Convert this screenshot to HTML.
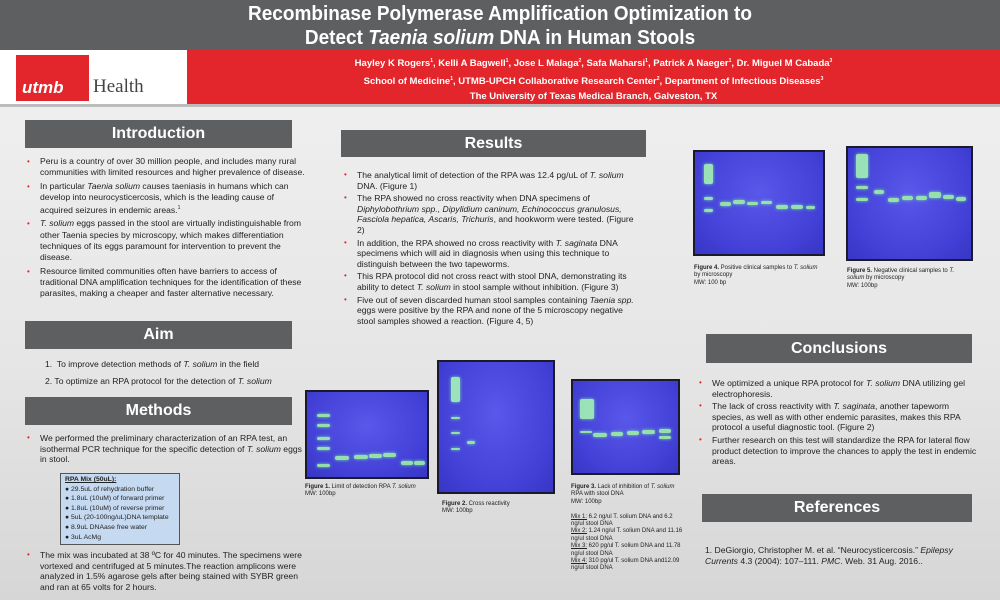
<!DOCTYPE html><html><head><meta charset="utf-8"><style>
*{margin:0;padding:0;box-sizing:border-box}
body{width:1000px;height:600px;overflow:hidden;font-family:"Liberation Sans",sans-serif;background:linear-gradient(#f2f2f2,#e6e6e6 60%,#d6d6d6);position:relative;color:#222}
.a{position:absolute}
.hd{background:#5e5f61;color:#fff;font-weight:bold;font-size:16px;text-align:center}
.tx{font-size:8.6px;line-height:10.6px}
.tx ul{list-style:none}
.tx li{position:relative;padding-left:15px;margin-bottom:2px}
.tx li:before{content:"•";color:#e0262c;position:absolute;left:2px;font-size:8px}
.gel{background:radial-gradient(ellipse at 50% 40%,#5a58ea,#4240d6 70%,#3836c4);border:2px solid #1a1a2a}
.cap{font-size:6px;line-height:7.4px;color:#222}
.band{position:absolute;height:4px;border-radius:2px;background:#9ef0a6;box-shadow:0 0 3px #7cf09a;opacity:.9}
</style></head><body>
<div class="a" style="left:0;top:0;width:1000px;height:50px;background:#5e5f61"></div>
<div class="a" style="left:0;top:2px;width:1000px;text-align:center;color:#fff;font-weight:bold;font-size:20px;line-height:24px;transform:scaleX(0.95)">Recombinase Polymerase Amplification Optimization to<br>Detect <i>Taenia solium</i> DNA in Human Stools</div>
<div class="a" style="left:0;top:50px;width:187px;height:54px;background:#fff"></div>
<div class="a" style="left:16px;top:55px;width:73px;height:46px;background:#e2262b"></div>
<div class="a" style="left:22px;top:78px;font-size:17px;font-weight:bold;font-style:italic;color:#fff">utmb</div>
<div class="a" style="left:93px;top:76px;font-size:19px;font-family:'Liberation Serif',serif;color:#444">Health</div>
<div class="a" style="left:187px;top:50px;width:813px;height:54px;background:#e2262b"></div>
<div class="a" style="left:187px;top:54px;width:813px;text-align:center;color:#fff;font-weight:bold;font-size:9.5px;line-height:15.5px">Hayley K Rogers<sup style="font-size:5px">1</sup>, Kelli A Bagwell<sup style="font-size:5px">1</sup>,  Jose L Malaga<sup style="font-size:5px">2</sup>, Safa Maharsi<sup style="font-size:5px">1</sup>, Patrick A Naeger<sup style="font-size:5px">1</sup>, Dr. Miguel M Cabada<sup style="font-size:5px">3</sup><br>School of Medicine<sup style="font-size:5px">1</sup>, UTMB-UPCH Collaborative Research Center<sup style="font-size:5px">2</sup>, Department of Infectious Diseases<sup style="font-size:5px">3</sup><br>The University of Texas Medical Branch, Galveston, TX</div>
<div class="a" style="left:0;top:104px;width:1000px;height:3px;background:#bdbdbd"></div>

<div class="a hd" style="left:25px;top:120px;width:267px;height:28px;line-height:28px">Introduction</div>
<div class="a tx" style="left:25px;top:156px;width:280px;line-height:11.3px"><ul>
<li>Peru is a country of over 30 million people, and includes many rural communities with limited resources and higher prevalence of disease.</li>
<li>In particular <i>Taenia solium</i> causes taeniasis in humans which can develop into neurocysticercosis, which is the leading cause of acquired seizures in endemic areas.<sup style="font-size:5px">1</sup></li>
<li><i>T. solium</i> eggs passed in the stool are virtually indistinguishable from other Taenia species by microscopy, which makes differentiation techniques of its eggs paramount for intervention to prevent the disease.</li>
<li>Resource limited communities often have barriers to access of traditional DNA amplification techniques for the identification of these parasites, making a cheaper and faster alternative necessary.</li></ul></div>

<div class="a hd" style="left:25px;top:321px;width:267px;height:28px;line-height:28px">Aim</div>
<div class="a tx" style="left:45px;top:356px;width:260px;line-height:17px">1.&nbsp; To improve detection methods of <i>T. solium</i> in the field<br>2. To optimize an RPA protocol for the detection of <i>T. solium</i></div>

<div class="a hd" style="left:25px;top:397px;width:267px;height:28px;line-height:28px">Methods</div>
<div class="a tx" style="left:25px;top:433px;width:280px"><ul><li>We performed the preliminary characterization of an RPA test, an isothermal PCR technique for the specific detection of <i>T. solium</i> eggs in stool.</li></ul></div>
<div class="a" style="left:60px;top:473px;width:120px;height:72px;background:#c5d9f0;border:1px solid #555;padding:1px 4px;line-height:9.6px;font-size:6.8px;white-space:nowrap"><b><u>RPA Mix (50uL):</u></b><br>● 29.5uL of rehydration buffer<br>● 1.8uL (10uM) of forward primer<br>● 1.8uL (10uM) of reverse primer<br>● 5uL (20-100ng/uL)DNA template<br>● 8.9uL DNAase free water<br>● 3uL AcMg</div>
<div class="a tx" style="left:25px;top:550px;width:280px"><ul><li>The mix was incubated at 38 ºC for 40 minutes. The specimens were vortexed and centrifuged at 5 minutes.The reaction amplicons were analyzed in 1.5% agarose gels after being stained with SYBR green and ran at 65 volts for 2 hours.</li></ul></div>

<div class="a hd" style="left:341px;top:130px;width:305px;height:27px;line-height:27px">Results</div>
<div class="a tx" style="left:342px;top:170px;width:300px"><ul>
<li>The analytical limit of detection of the RPA was 12.4 pg/uL of <i>T. solium</i> DNA. (Figure 1)</li>
<li>The RPA showed no cross reactivity when DNA specimens of <i>Diphylobothrium spp., Dipylidium caninum, Echinococcus granulosus, Fasciola hepatica, Ascaris, Trichuris</i>, and hookworm were tested. (Figure 2)</li>
<li>In addition, the RPA showed no cross reactivity with <i>T. saginata</i> DNA specimens which will aid in diagnosis when using this technique to distinguish between the two tapeworms.</li>
<li>This RPA protocol did not cross react with stool DNA, demonstrating its ability to detect <i>T. solium</i> in stool sample without inhibition. (Figure 3)</li>
<li>Five out of seven discarded human stool samples containing <i>Taenia spp.</i> eggs were positive by the RPA and none of the 5 microscopy negative stool samples showed a reaction. (Figure 4, 5)</li></ul></div>

<div class="a gel" style="left:305px;top:390px;width:124px;height:89px">
<div class="band" style="left:10px;top:22px;width:13px;height:3px"></div><div class="band" style="left:10px;top:32px;width:13px;height:3px"></div><div class="band" style="left:10px;top:45px;width:13px;height:3px"></div><div class="band" style="left:10px;top:55px;width:13px;height:3px"></div><div class="band" style="left:10px;top:72px;width:13px;height:3px"></div>
<div class="band" style="left:28px;top:64px;width:14px"></div><div class="band" style="left:47px;top:63px;width:14px"></div><div class="band" style="left:62px;top:62px;width:13px"></div><div class="band" style="left:76px;top:61px;width:13px"></div><div class="band" style="left:94px;top:69px;width:12px"></div><div class="band" style="left:107px;top:69px;width:11px"></div></div>
<div class="a cap" style="left:305px;top:484px;width:130px"><b>Figure 1.</b> Limit of detection RPA <i>T. solium</i><br>MW: 100bp</div>
<div class="a gel" style="left:437px;top:360px;width:118px;height:134px">
<div class="band" style="left:12px;top:15px;width:9px;height:25px;background:#a6f4b8"></div><div class="band" style="left:12px;top:55px;width:9px;height:2px"></div><div class="band" style="left:12px;top:70px;width:9px;height:2px"></div><div class="band" style="left:12px;top:86px;width:9px;height:2px"></div><div class="band" style="left:28px;top:79px;width:8px;height:3px"></div></div>
<div class="a cap" style="left:442px;top:501px;width:120px"><b>Figure 2.</b> Cross reactivity<br>MW: 100bp</div>
<div class="a gel" style="left:571px;top:379px;width:109px;height:96px">
<div class="band" style="left:7px;top:18px;width:14px;height:20px;background:#a4f3b4"></div><div class="band" style="left:7px;top:50px;width:12px;height:2px"></div><div class="band" style="left:20px;top:52px;width:14px"></div><div class="band" style="left:38px;top:51px;width:12px"></div><div class="band" style="left:54px;top:50px;width:12px"></div><div class="band" style="left:69px;top:49px;width:13px"></div><div class="band" style="left:86px;top:48px;width:12px"></div><div class="band" style="left:86px;top:55px;width:12px;height:3px"></div></div>
<div class="a cap" style="left:571px;top:484px;width:112px"><b>Figure 3.</b> Lack of inhibition of <i>T. solium</i> RPA with stool DNA<br>MW: 100bp<br><br><u>Mix 1:</u> 6.2 ng/ul T. solium DNA and 6.2 ng/ul stool DNA<br><u>Mix 2:</u> 1.24 ng/ul T. solium DNA and 11.16 ng/ul stool DNA<br><u>Mix 3:</u> 620 pg/ul T. solium DNA and 11.78 ng/ul stool DNA<br><u>Mix 4:</u> 310 pg/ul T. solium DNA and12.09 ng/ul stool DNA</div>
<div class="a gel" style="left:693px;top:150px;width:132px;height:106px">
<div class="band" style="left:9px;top:12px;width:9px;height:20px;background:#a4f3b4"></div><div class="band" style="left:9px;top:45px;width:9px;height:3px"></div><div class="band" style="left:9px;top:57px;width:9px;height:3px"></div><div class="band" style="left:25px;top:50px;width:11px"></div><div class="band" style="left:38px;top:48px;width:12px"></div><div class="band" style="left:52px;top:50px;width:11px;height:3px"></div><div class="band" style="left:66px;top:49px;width:11px;height:3px"></div><div class="band" style="left:81px;top:53px;width:12px"></div><div class="band" style="left:96px;top:53px;width:12px"></div><div class="band" style="left:111px;top:54px;width:9px;height:3px"></div></div>
<div class="a cap" style="left:694px;top:265px;width:130px"><b>Figure 4.</b> Positive clinical samples to <i>T. solium</i> by microscopy<br>MW: 100 bp</div>
<div class="a gel" style="left:846px;top:146px;width:127px;height:115px">
<div class="band" style="left:8px;top:6px;width:12px;height:24px;background:#a4f3b4"></div><div class="band" style="left:8px;top:38px;width:12px;height:3px"></div><div class="band" style="left:8px;top:50px;width:12px;height:3px"></div><div class="band" style="left:26px;top:42px;width:10px"></div><div class="band" style="left:40px;top:50px;width:11px"></div><div class="band" style="left:54px;top:48px;width:11px"></div><div class="band" style="left:68px;top:48px;width:11px"></div><div class="band" style="left:81px;top:44px;width:12px;height:6px"></div><div class="band" style="left:95px;top:47px;width:11px"></div><div class="band" style="left:108px;top:49px;width:10px"></div></div>
<div class="a cap" style="left:847px;top:268px;width:125px"><b>Figure 5.</b> Negative clinical samples to <i>T. solium</i> by microscopy<br>MW: 100bp</div>

<div class="a hd" style="left:706px;top:334px;width:266px;height:29px;line-height:29px">Conclusions</div>
<div class="a tx" style="left:697px;top:378px;width:285px"><ul>
<li>We optimized a unique RPA protocol for <i>T. solium</i> DNA utilizing gel electrophoresis.</li>
<li>The lack of cross reactivity with <i>T. saginata</i>, another tapeworm species, as well as with other endemic parasites, makes this RPA protocol a useful diagnostic tool. (Figure 2)</li>
<li>Further research on this test will standardize the RPA for lateral flow product detection to improve the chances to apply the test in endemic areas.</li></ul></div>
<div class="a hd" style="left:702px;top:494px;width:270px;height:28px;line-height:28px">References</div>
<div class="a tx" style="left:705px;top:545px;width:270px">1. DeGiorgio, Christopher M. et al. “Neurocysticercosis.” <i>Epilepsy Currents</i> 4.3 (2004): 107–111. <i>PMC</i>. Web. 31 Aug. 2016..</div>
</body></html>
